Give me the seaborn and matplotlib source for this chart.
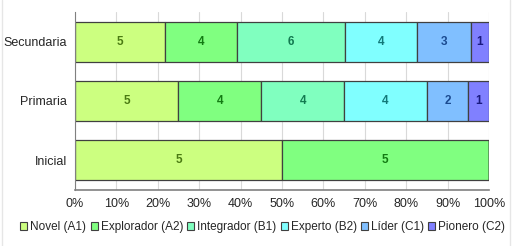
import numpy as np
import pandas as pd
import matplotlib
matplotlib.use("Agg")
import matplotlib.pyplot as plt
import seaborn as sns
from matplotlib.patches import Patch

# Data
niveles = ['Secundaria', 'Primaria', 'Inicial']
series = ['Novel (A1)', 'Explorador (A2)', 'Integrador (B1)',
          'Experto (B2)', 'Líder (C1)', 'Pionero (C2)']
novel = [5, 5, 5]
explorador = [4, 4, 5]
integrador = [6, 4, 0]
experto = [4, 4, 0]
lider = [3, 2, 0]
pionero = [1, 1, 0]

colores = ['#CCFF80', '#80FF80', '#80FFBF', '#80FFFF', '#80BFFF', '#8080FF']
colores_texto = ['#4A7A12', '#127A12', '#127A50', '#127878', '#1A4A90', '#1A1A80']

sns.set_style('white')
plt.rcParams['font.family'] = ['Liberation Sans', 'DejaVu Sans']

counts = np.array([novel, explorador, integrador, experto, lider, pionero], dtype=float)
pct = counts / counts.sum(axis=0) * 100
lefts = np.vstack([np.zeros(len(niveles)), np.cumsum(pct, axis=0)[:-1]])

fig = plt.figure(figsize=(5.32, 2.46), dpi=100)
ax = fig.add_axes([0.141, 0.228, 0.778, 0.723])

# Stacked bars, one seaborn call per series
for i, name in enumerate(series):
    df = pd.DataFrame({'nivel': niveles, 'pct': pct[i], 'left': lefts[i]})
    sns.barplot(data=df, x='pct', y='nivel', orient='h', left=df['left'],
                color=colores[i], edgecolor='#404040', linewidth=0.9,
                width=0.67, saturation=1, ax=ax)
    for j in range(len(niveles)):
        if counts[i, j] > 0:
            ax.text(lefts[i, j] + pct[i, j] / 2, j, '%d' % counts[i, j],
                    ha='center', va='center', fontsize=8.5, fontweight='bold',
                    color=colores_texto[i])

ax.set_xlim(0, 100)
ax.set_ylim(2.5, -0.5)
ax.set_xticks(np.arange(0, 101, 10))
ax.set_xticklabels(['%d%%' % v for v in range(0, 101, 10)], fontsize=9)
ax.tick_params(axis='y', labelsize=9, length=0, pad=6)
ax.tick_params(axis='x', direction='inout', length=6, width=1, color='#808080', pad=3)
ax.set_xlabel('')
ax.set_ylabel('')
ax.grid(axis='x', color='#D9D9D9', linewidth=0.8)
ax.set_axisbelow(True)
for s in ['top', 'right']:
    ax.spines[s].set_visible(False)
ax.spines['left'].set_color('#808080')
ax.spines['bottom'].set_color('#808080')
ax.spines['bottom'].set_linewidth(1.2)

handles = [Patch(facecolor=c, edgecolor='#404040', linewidth=0.8) for c in colores]
fig.legend(handles, series, loc='center', bbox_to_anchor=(0.494, 0.077), ncol=6,
           frameon=False, fontsize=8.5, handlelength=0.6, handleheight=0.6,
           handletextpad=0.25, columnspacing=0.35, borderaxespad=0)

# faint chart border
fig.add_artist(plt.Line2D([0.004, 0.004], [0, 1], color='#E6E6E6', linewidth=1))
fig.add_artist(plt.Line2D([0.958, 0.958], [0, 1], color='#E6E6E6', linewidth=1))

plt.savefig('out.png', dpi=100)
